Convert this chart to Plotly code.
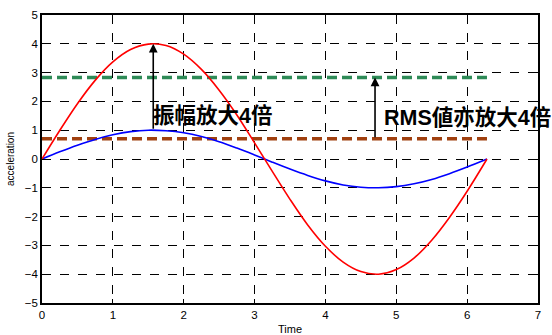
import plotly.graph_objects as go

# Data
t = [0, 0.25, 0.5, 0.75, 1.0, 1.25, 1.5, 1.75, 2.0, 2.25, 2.5, 2.75, 3.0,
     3.25, 3.5, 3.75, 4.0, 4.25, 4.5, 4.75, 5.0, 5.25, 5.5, 5.75, 6.0, 6.28]
blue = [0, 0.25, 0.48, 0.68, 0.84, 0.95, 1.0, 0.98, 0.91, 0.78, 0.60, 0.38, 0.14,
        -0.11, -0.35, -0.57, -0.76, -0.90, -0.98, -1.0, -0.96, -0.86, -0.71, -0.51, -0.28, 0]
red = [0, 0.99, 1.92, 2.73, 3.37, 3.80, 3.99, 3.94, 3.64, 3.11, 2.39, 1.53, 0.56,
       -0.43, -1.40, -2.29, -3.03, -3.58, -3.91, -4.0, -3.84, -3.44, -2.82, -2.03, -1.12, 0]
rms_x = [0, 6.28]
rms_small = [0.707, 0.707]
rms_big = [2.83, 2.83]
x_ticks = [0, 1, 2, 3, 4, 5, 6, 7]
y_ticks = [-5, -4, -3, -2, -1, 0, 1, 2, 3, 4, 5]
arrow1 = dict(x=1.57, y0=1.0, y1=4.0)
arrow2 = dict(x=4.70, y0=0.707, y1=2.83)
label1 = "振幅放大4倍"
label2 = "RMS値亦放大4倍"

fig = go.Figure()
fig.add_trace(go.Scatter(x=rms_x, y=rms_big, mode="lines",
                         line=dict(color="#2E8B57", width=3.5, dash="10px,5px")))
fig.add_trace(go.Scatter(x=rms_x, y=rms_small, mode="lines",
                         line=dict(color="#A0400F", width=3.5, dash="10px,5px")))
fig.add_trace(go.Scatter(x=t, y=blue, mode="lines", line=dict(color="#0000FF", width=1.6, shape="spline")))
fig.add_trace(go.Scatter(x=t, y=red, mode="lines", line=dict(color="#FF0000", width=1.6, shape="spline")))

for a in (arrow1, arrow2):
    fig.add_annotation(x=a["x"], y=a["y1"], ax=a["x"], ay=a["y0"], xref="x", yref="y",
                       axref="x", ayref="y", showarrow=True, arrowhead=2, arrowsize=1.1,
                       arrowwidth=1.6, arrowcolor="black", text="")

lab_font = "Liberation Sans, Noto Sans CJK TC"
fig.add_annotation(x=arrow1["x"], y=1.52, xref="x", yref="y", text="<b>" + label1 + "</b>",
                   showarrow=False, xanchor="left", yanchor="middle", xshift=-2,
                   font=dict(family=lab_font, size=21.5, color="black"))
fig.add_annotation(x=arrow2["x"], y=1.45, xref="x", yref="y", text="<b>" + label2 + "</b>",
                   showarrow=False, xanchor="left", yanchor="middle", xshift=7,
                   font=dict(family=lab_font, size=21.5, color="black"))

axis_common = dict(showline=True, linecolor="black", linewidth=1.5, mirror="ticks",
                   ticks="inside", ticklen=4, tickcolor="black", automargin=False,
                   showgrid=True, gridcolor="black", gridwidth=1, griddash="dash",
                   zeroline=False, tickfont=dict(family="Liberation Sans", size=11.5, color="black"))

fig.update_xaxes(range=[0, 7], tickvals=x_ticks, **axis_common,
                 title=dict(text="Time", font=dict(family="Liberation Sans", size=11, color="black"),
                            standoff=8))
fig.update_yaxes(range=[-5, 5], tickvals=y_ticks, **axis_common,
                 title=dict(text="acceleration", font=dict(family="Liberation Sans", size=10, color="black"),
                            standoff=8))

fig.update_layout(width=552, height=335, margin=dict(l=42, r=14, t=15, b=32),
                  plot_bgcolor="white", paper_bgcolor="white", showlegend=False)

fig.write_html("out.html")
